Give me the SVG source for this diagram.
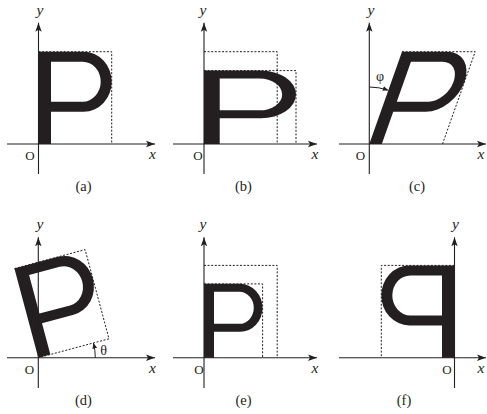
<svg xmlns="http://www.w3.org/2000/svg" xmlns:xlink="http://www.w3.org/1999/xlink" width="487" height="414" viewBox="0 0 487 414">
<style>
.ax{stroke:#231f20;stroke-width:1.1;fill:none;}
.axa{marker-end:url(#ah);}
.dash{stroke:#231f20;stroke-width:1;fill:none;stroke-dasharray:2 1.6;}
.glyph{fill:#231f20;fill-rule:evenodd;}
.arc{stroke:#231f20;stroke-width:1;fill:none;marker-end:url(#sh);}
text{font-family:"Liberation Serif","Times New Roman",serif;fill:#231f20;}
.var{font-style:italic;font-size:15.5px;}
.o{font-size:13px;text-anchor:middle;}
.cap{font-size:14.5px;text-anchor:middle;}
.gr{font-size:14px;}
</style>
<defs>
<marker id="ah" markerWidth="10" markerHeight="8" refX="9" refY="4" orient="auto" markerUnits="userSpaceOnUse">
<path d="M0,0.8 L9,4 L0,7.2 L2,4 Z" fill="#231f20"/>
</marker>
<marker id="sh" markerWidth="7" markerHeight="6" refX="5.5" refY="3" orient="auto" markerUnits="userSpaceOnUse">
<path d="M0,0.6 L5.5,3 L0,5.4 Z" fill="#231f20"/>
</marker>
<path id="P" d="M0,0 V-92.3 H45.2 A28,30 0 0 1 45.2,-32.3 H12.5 V0 Z M12.5,-82.3 H44.2 A18,20 0 0 1 44.2,-42.3 H12.5 Z"/>
</defs>

<g id="panel-a">
<use xlink:href="#P" href="#P" class="glyph" transform="translate(38.5,144)"/>
<polyline class="dash" points="38.5,51.7 111.7,51.7 111.7,144"/>
<line class="ax axa" x1="7" y1="144" x2="155" y2="144"/>
<line class="ax axa" x1="38.5" y1="174" x2="38.5" y2="22.7"/>
<text class="var" x="40" y="14.5" text-anchor="middle">y</text>
<text class="var" x="152.5" y="159" text-anchor="middle">x</text>
<text class="o" x="30" y="159.5">O</text>
<text class="cap" x="83.5" y="190.5">(a)</text>
</g>

<g id="panel-b">
<use xlink:href="#P" href="#P" class="glyph" transform="translate(204,144) scale(1.257,0.795)"/>
<polyline class="dash" points="204,51.7 277.2,51.7 277.2,144"/>
<polyline class="dash" points="204,70.6 296,70.6 296,144"/>
<line class="ax axa" x1="173" y1="144" x2="317" y2="144"/>
<line class="ax axa" x1="204" y1="174" x2="204" y2="22.7"/>
<text class="var" x="203" y="14.5" text-anchor="middle">y</text>
<text class="var" x="315" y="159" text-anchor="middle">x</text>
<text class="o" x="198" y="159.5">O</text>
<text class="cap" x="243.5" y="190.5">(b)</text>
</g>

<g id="panel-c">
<use xlink:href="#P" href="#P" class="glyph" transform="translate(369.3,144) skewX(-19.5)"/>
<polyline class="dash" points="402,51.7 475.2,51.7 442.5,144"/>
<line class="ax axa" x1="339" y1="144" x2="486" y2="144"/>
<line class="ax axa" x1="369.3" y1="174" x2="369.3" y2="22.7"/>
<path class="arc" d="M369.3,87 A57,57 0 0 1 388.3,90.3"/>
<text class="gr" x="380" y="81" text-anchor="middle">φ</text>
<text class="var" x="371" y="14.5" text-anchor="middle">y</text>
<text class="var" x="481" y="159" text-anchor="middle">x</text>
<text class="o" x="360.5" y="159.5">O</text>
<text class="cap" x="417" y="190.5">(c)</text>
</g>

<g id="panel-d">
<use xlink:href="#P" href="#P" class="glyph" transform="translate(38.3,357.7) rotate(-15)"/>
<polyline class="dash" points="14.4,268.55 85.1,249.6 109,338.8 38.3,357.7"/>
<line class="ax axa" x1="7" y1="357.7" x2="155" y2="357.7"/>
<line class="ax axa" x1="38.3" y1="388" x2="38.3" y2="237.3"/>
<path class="arc" d="M95.3,357.7 A57,57 0 0 0 93.4,343"/>
<text class="gr" x="103.5" y="354.5" text-anchor="middle">θ</text>
<text class="var" x="40" y="228.5" text-anchor="middle">y</text>
<text class="var" x="152.5" y="373" text-anchor="middle">x</text>
<text class="o" x="29.5" y="373.5">O</text>
<text class="cap" x="83.5" y="404.5">(d)</text>
</g>

<g id="panel-e">
<use xlink:href="#P" href="#P" class="glyph" transform="translate(204,357.7) scale(0.8)"/>
<polyline class="dash" points="204,265.4 277.2,265.4 277.2,357.7"/>
<polyline class="dash" points="204,283.9 262.6,283.9 262.6,357.7"/>
<line class="ax axa" x1="173" y1="357.7" x2="317" y2="357.7"/>
<line class="ax axa" x1="204" y1="388" x2="204" y2="237.3"/>
<text class="var" x="203" y="228.5" text-anchor="middle">y</text>
<text class="var" x="315" y="373" text-anchor="middle">x</text>
<text class="o" x="199" y="373.5">O</text>
<text class="cap" x="243.5" y="404.5">(e)</text>
</g>

<g id="panel-f">
<use xlink:href="#P" href="#P" class="glyph" transform="translate(454.5,357.7) scale(-1,1)"/>
<polyline class="dash" points="454.5,265.4 381.3,265.4 381.3,357.7"/>
<line class="ax axa" x1="339" y1="357.7" x2="486" y2="357.7"/>
<line class="ax axa" x1="454.5" y1="388" x2="454.5" y2="237.3"/>
<text class="var" x="455.5" y="228.5" text-anchor="middle">y</text>
<text class="var" x="481" y="373" text-anchor="middle">x</text>
<text class="o" x="447" y="373.5">O</text>
<text class="cap" x="404" y="404.5">(f)</text>
</g>
</svg>
